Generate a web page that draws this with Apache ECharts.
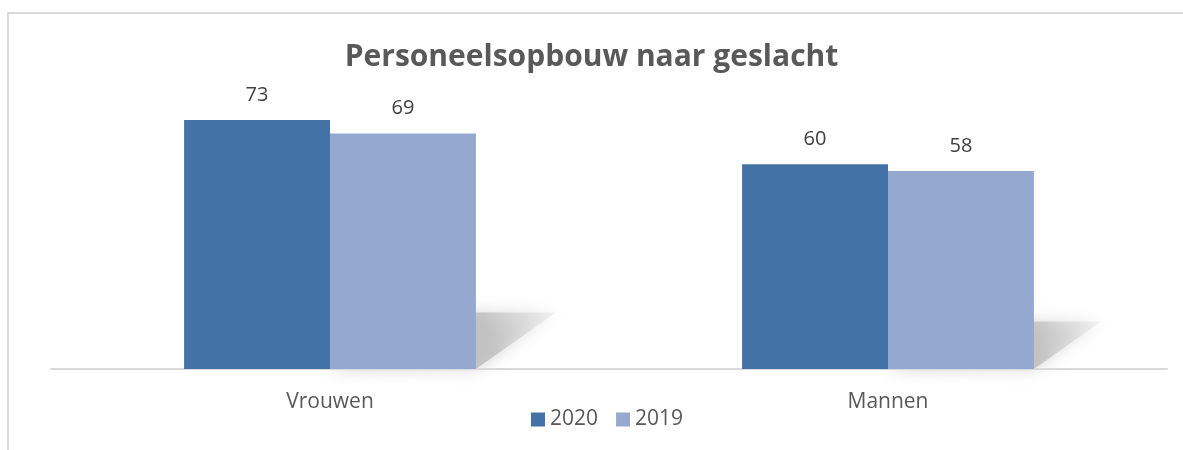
<!DOCTYPE html>
<html><head><meta charset="utf-8">
<script src="https://cdn.jsdelivr.net/npm/echarts@6/dist/echarts.min.js"></script>
<style>html,body{margin:0;padding:0;background:#fff}#c{width:1183px;height:450px}</style>
</head><body><div id="c"></div>
<script>
const categories = ['Vrouwen', 'Mannen'];
const values2020 = [73, 60];
const values2019 = [69, 58];
const seriesNames = ['2020', '2019'];

const chart = echarts.init(document.getElementById('c'), null, {renderer: 'canvas'});
const gapPct = 0.477;
const font = 'Open Sans';
chart.setOption({
  animation: false,
  title: {
    text: 'Personeelsopbouw naar geslacht',
    left: 'center', top: 37,
    textStyle: {fontFamily: font, fontWeight: 'bold', fontSize: 30, color: '#595959'}
  },
  graphic: [{
    type: 'rect', shape: {x: 8, y: 13, width: 1180, height: 460},
    style: {fill: 'none', stroke: '#d9d9d9', lineWidth: 2}, silent: true, z: -10
  }],
  legend: {
    data: seriesNames, bottom: 15, left: 526, itemWidth: 14, itemHeight: 14, itemGap: 18,
    icon: 'rect',
    textStyle: {fontFamily: font, fontSize: 21, color: '#595959'}
  },
  grid: {left: 51, right: 16, top: 96, bottom: 81},
  xAxis: {
    type: 'category', data: categories,
    axisLine: {lineStyle: {color: '#d9d9d9', width: 2}},
    axisTick: {show: false},
    axisLabel: {fontFamily: font, fontSize: 21, color: '#595959', margin: 23}
  },
  yAxis: {type: 'value', min: 0, max: 80, show: false, splitLine: {show: false}},
  series: [
    {
      type: 'custom', name: 'shadow', z: 0, silent: true,
      data: values2019.map((v, i) => [i, v]),
      renderItem: function (params, api) {
        const idx = api.value(0), v = api.value(1);
        const top = api.coord([idx, v]);
        const base = api.coord([idx, 0]);
        const band = api.size([1, 0])[0];
        const bw = band * (1 - gapPct) / 2;
        const right = top[0] + bw;
        const left = top[0];
        const h = base[1] - top[1];
        const dx = h * 0.34, dy = h * 0.24;
        return {
          type: 'polygon',
          shape: {points: [[left, base[1]], [right, base[1]], [right + dx, base[1] - dy], [left + dx, base[1] - dy]]},
          style: {
            fill: new echarts.graphic.LinearGradient(0, 1, 1, 0, [
              {offset: 0, color: 'rgba(170,170,170,0.95)'},
              {offset: 0.7, color: 'rgba(190,190,190,0.8)'},
              {offset: 1, color: 'rgba(220,220,220,0.3)'}
            ]),
            shadowBlur: 16, shadowColor: 'rgba(190,190,190,0.8)'
          }
        };
      }
    },
    {
      type: 'bar', name: '2020', data: values2020, barGap: '0%', barCategoryGap: (gapPct * 100) + '%', z: 2,
      itemStyle: {color: '#4472a6'},
      label: {show: true, position: 'top', distance: 15, fontFamily: font, fontSize: 20, color: '#404040'}
    },
    {
      type: 'bar', name: '2019', data: values2019, z: 2,
      itemStyle: {color: '#95a9d0'},
      label: {show: true, position: 'top', distance: 15, fontFamily: font, fontSize: 20, color: '#404040'}
    }
  ]
});
</script></body></html>
